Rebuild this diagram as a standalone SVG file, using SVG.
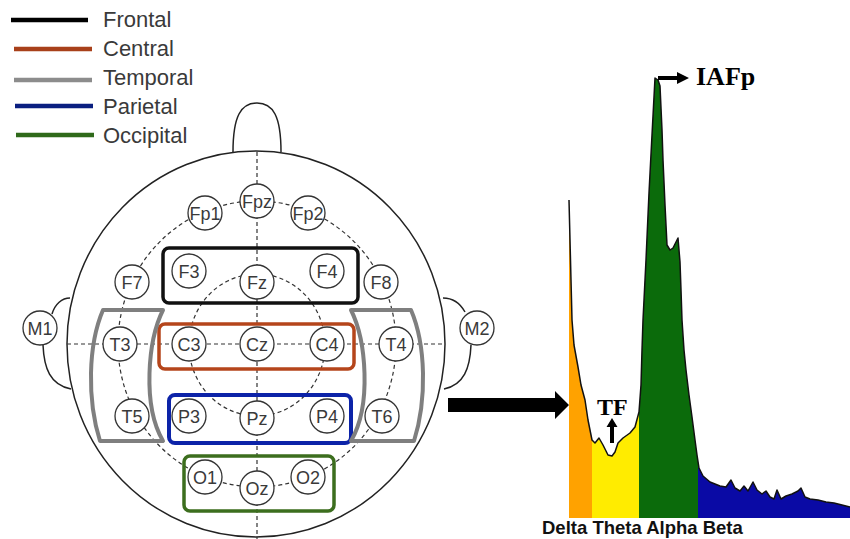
<svg xmlns="http://www.w3.org/2000/svg" width="850" height="539" viewBox="0 0 850 539">
  <defs>
    <style>
      .leg { font-family: "Liberation Sans", Arial, sans-serif; font-size: 22px; fill: #3a3a3a; }
      .legline { stroke-width: 4.5; fill: none; }
      .el circle { fill: #fff; stroke: #333; stroke-width: 1.3; }
      .el text { font-family: "Liberation Sans", Arial, sans-serif; font-size: 18px; fill: #3a3a3a; text-anchor: middle; }
      .dash { fill: none; stroke: #333; stroke-width: 1.2; stroke-dasharray: 4 3; }
      .outline { fill: none; stroke: #222; stroke-width: 1.5; }
      .region { fill: none; stroke-linejoin: round; }
      .band { font-family: "Liberation Sans", Arial, sans-serif; font-size: 18.5px; font-weight: bold; fill: #111; }
      .serif { font-family: "Liberation Serif", "Times New Roman", serif; font-weight: bold; fill: #000; }
    </style>
    <clipPath id="spectrumClip">
      <path d="M569,200 L570,240 L571,280 L572,320 L574,345 L578,367 L581,385 L585,400 L588,420 L592,440 L595,443 L599,438 L603,445 L608,455 L612,456 L615,452 L618,443 L623,438 L630,433 L635,427 L639,412 L641,385 L642,350 L643,320 L646,260 L649,193 L652,135 L655,78 L658,80 L660,86 L662,130 L663,160 L665,205 L667,245 L670,250 L673,248 L678,238 L679,250 L680,262 L681,290 L682,320 L684,350 L686,370 L689,395 L692,417 L695,440 L697,455 L699,468 L703,476 L710,482 L720,486 L726,487 L731,480 L735,488 L740,491 L744,486 L748,491 L753,482 L757,490 L762,494 L766,491 L770,497 L774,499 L777,490 L781,499 L786,496 L792,494 L798,491 L801,488 L805,497 L810,499 L818,500 L826,502 L834,503 L842,505 L850,507 L850,518 L569,518 Z"/>
    </clipPath>
  </defs>

  <rect width="850" height="539" fill="#fff"/>

  <!-- legend -->
  <g id="legend">
    <line class="legline" x1="11" y1="20" x2="88" y2="20" stroke="#000"/>
    <text class="leg" x="103" y="27">Frontal</text>
    <line class="legline" x1="14" y1="49" x2="92" y2="49" stroke="#a8401a"/>
    <text class="leg" x="103" y="56">Central</text>
    <line class="legline" x1="14" y1="80" x2="92" y2="80" stroke="#8c8c8c"/>
    <text class="leg" x="103" y="85">Temporal</text>
    <line class="legline" x1="15" y1="106" x2="93" y2="106" stroke="#0a1f80"/>
    <text class="leg" x="103" y="114">Parietal</text>
    <line class="legline" x1="16" y1="135" x2="94" y2="135" stroke="#2f6a1a"/>
    <text class="leg" x="103" y="143">Occipital</text>
  </g>

  <!-- head outline, nose and ears -->
  <g id="head">
    <ellipse class="outline" cx="256" cy="344" rx="189" ry="193"/>
    <path class="outline" d="M233,152 C233,116 241,103 257,103 C273,103 281,116 281,152"/>
    <path class="outline" d="M70,298 C62,298 55,304 52,314"/>
    <path class="outline" d="M43,345 C44,368 50,385 71,389"/>
    <path class="outline" d="M443,298 C452,298 460,303 465,312"/>
    <path class="outline" d="M471,345 C470,368 464,385 444,389"/>
  </g>

  <!-- electrode grid lines -->
  <g id="connectors">
    <line class="dash" x1="257" y1="152" x2="257" y2="539"/>
    <line class="dash" x1="67" y1="344" x2="445" y2="344"/>
    <ellipse class="dash" cx="257" cy="344" rx="139" ry="143"/>
    <ellipse class="dash" cx="257" cy="345" rx="68" ry="71"/>
  </g>

  <!-- electrodes -->
  <g id="Fp1" class="el"><circle cx="205" cy="213" r="17"/><text x="205" y="219.5">Fp1</text></g>
  <g id="Fpz" class="el"><circle cx="257" cy="201" r="17"/><text x="257" y="207.5">Fpz</text></g>
  <g id="Fp2" class="el"><circle cx="308" cy="213" r="17"/><text x="308" y="219.5">Fp2</text></g>
  <g id="F7" class="el"><circle cx="132" cy="282" r="17"/><text x="132" y="288.5">F7</text></g>
  <g id="F3" class="el"><circle cx="189" cy="271" r="17"/><text x="189" y="277.5">F3</text></g>
  <g id="Fz" class="el"><circle cx="257" cy="282" r="17"/><text x="257" y="288.5">Fz</text></g>
  <g id="F4" class="el"><circle cx="327" cy="271" r="17"/><text x="327" y="277.5">F4</text></g>
  <g id="F8" class="el"><circle cx="381" cy="282" r="17"/><text x="381" y="288.5">F8</text></g>
  <g id="M1" class="el"><circle cx="40" cy="328" r="17"/><text x="40" y="334.5">M1</text></g>
  <g id="T3" class="el"><circle cx="120" cy="344" r="17"/><text x="120" y="350.5">T3</text></g>
  <g id="C3" class="el"><circle cx="189" cy="344" r="17"/><text x="189" y="350.5">C3</text></g>
  <g id="Cz" class="el"><circle cx="257" cy="344" r="17"/><text x="257" y="350.5">Cz</text></g>
  <g id="C4" class="el"><circle cx="327" cy="344" r="17"/><text x="327" y="350.5">C4</text></g>
  <g id="T4" class="el"><circle cx="396" cy="344" r="17"/><text x="396" y="350.5">T4</text></g>
  <g id="M2" class="el"><circle cx="477" cy="328" r="17"/><text x="477" y="334.5">M2</text></g>
  <g id="T5" class="el"><circle cx="132" cy="416" r="17"/><text x="132" y="422.5">T5</text></g>
  <g id="P3" class="el"><circle cx="189" cy="416" r="17"/><text x="189" y="422.5">P3</text></g>
  <g id="Pz" class="el"><circle cx="257" cy="418" r="17"/><text x="257" y="424.5">Pz</text></g>
  <g id="P4" class="el"><circle cx="327" cy="416" r="17"/><text x="327" y="422.5">P4</text></g>
  <g id="T6" class="el"><circle cx="382" cy="416" r="17"/><text x="382" y="422.5">T6</text></g>
  <g id="O1" class="el"><circle cx="205" cy="477" r="17"/><text x="205" y="483.5">O1</text></g>
  <g id="Oz" class="el"><circle cx="257" cy="488" r="17"/><text x="257" y="494.5">Oz</text></g>
  <g id="O2" class="el"><circle cx="308" cy="477" r="17"/><text x="308" y="483.5">O2</text></g>

  <!-- electrode regions -->
  <g id="regions">
    <rect id="frontal" class="region" x="163" y="248" width="195" height="55" rx="6" stroke="#111" stroke-width="3.5"/>
    <rect id="central" class="region" x="159" y="324" width="195" height="45" rx="6" stroke="#b5451b" stroke-width="3.5"/>
    <rect id="parietal" class="region" x="169" y="395" width="182" height="48" rx="6" stroke="#0c23a8" stroke-width="4"/>
    <rect id="occipital" class="region" x="184" y="456" width="150" height="55" rx="6" stroke="#3c6e1e" stroke-width="3.5"/>
    <path id="temporal-left" class="region" stroke="#7f7f7f" stroke-width="4" d="M103,310 L163,310 C148,340 142,405 163,441 L100,441 C87,400 88,345 103,310 Z"/>
    <path id="temporal-right" class="region" stroke="#7f7f7f" stroke-width="4" d="M411,310 L351,310 C366,340 372,405 351,441 L414,441 C427,400 426,345 411,310 Z"/>
  </g>

  <!-- arrow from head map to spectrum -->
  <polygon id="mainArrow" points="448,398 555,398 555,391 569,405 555,419 555,412 448,412" fill="#000"/>

  <!-- power spectrum -->
  <g id="spectrum">
    <g clip-path="url(#spectrumClip)">
      <rect x="569" y="60" width="23" height="460" fill="#ffa200"/>
      <rect x="592" y="60" width="47" height="460" fill="#ffec00"/>
      <rect x="639" y="60" width="59" height="460" fill="#0b6b0b"/>
      <rect x="698" y="60" width="152" height="460" fill="#0a0aa5"/>
    </g>
    <path fill="none" stroke="#111" stroke-width="1.5" stroke-linejoin="round" d="M569,200 L570,240 L571,280 L572,320 L574,345 L578,367 L581,385 L585,400 L588,420 L592,440 L595,443 L599,438 L603,445 L608,455 L612,456 L615,452 L618,443 L623,438 L630,433 L635,427 L639,412 L641,385 L642,350 L643,320 L646,260 L649,193 L652,135 L655,78 L658,80 L660,86 L662,130 L663,160 L665,205 L667,245 L670,250 L673,248 L678,238 L679,250 L680,262 L681,290 L682,320 L684,350 L686,370 L689,395 L692,417 L695,440 L697,455 L699,468 L703,476 L710,482 L720,486 L726,487 L731,480 L735,488 L740,491 L744,486 L748,491 L753,482 L757,490 L762,494 L766,491 L770,497 L774,499 L777,490 L781,499 L786,496 L792,494 L798,491 L801,488 L805,497 L810,499 L818,500 L826,502 L834,503 L842,505 L850,507"/>
  </g>

  <!-- peak and transition markers -->
  <g id="IAFp">
    <polygon points="658,76 677,76 677,72 689,78 677,84 677,80 658,80" fill="#000"/>
    <text class="serif" x="696" y="85" font-size="26">IAFp</text>
  </g>
  <g id="TF">
    <polygon points="610,443 610,427 606.5,427 612,418 617.5,427 614,427 614,443" fill="#000"/>
    <text class="serif" x="597" y="415" font-size="24">TF</text>
  </g>

  <!-- band labels -->
  <text id="bands" class="band" x="542" y="534">Delta Theta Alpha Beta</text>
</svg>
